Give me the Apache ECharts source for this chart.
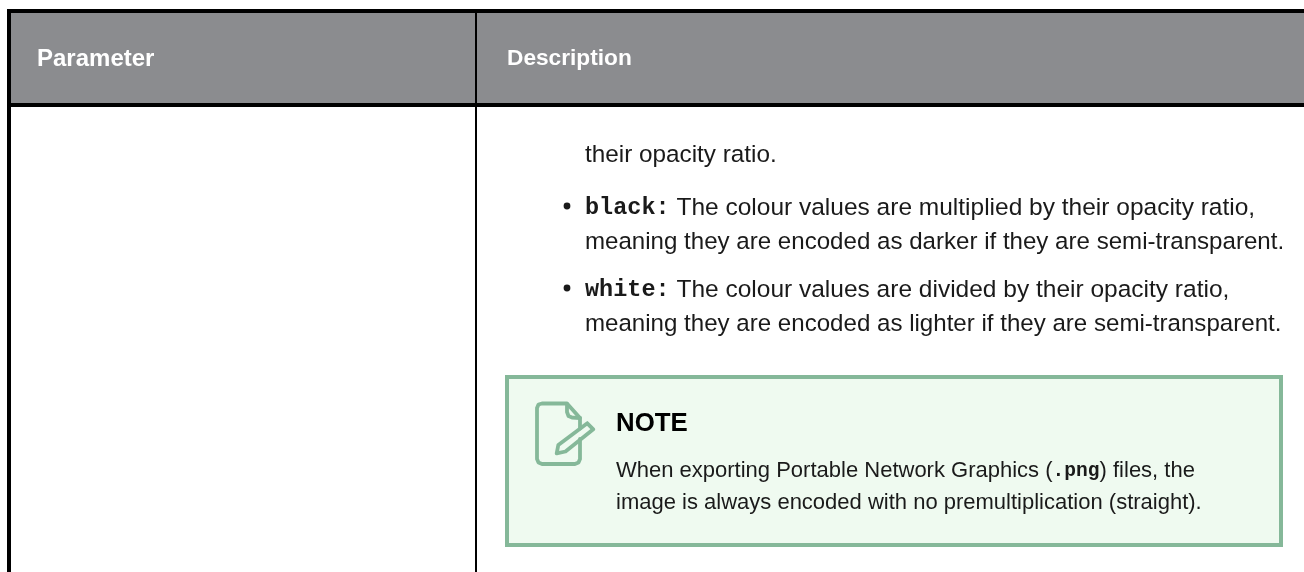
<!DOCTYPE html>
<html>
<head>
<meta charset="utf-8">
<style>
  html, body { margin: 0; padding: 0; background: #fff; }
  #chart { width: 1304px; height: 572px; }
</style>
<script src="https://cdn.jsdelivr.net/npm/echarts@6/dist/echarts.min.js"></script>
</head>
<body>
<div id="chart"></div>
<script>
const headers = ["Parameter", "Description"];
const introLine = "their opacity ratio.";
const bulletTerms = ["black:", "white:"];
const bulletFirstLines = [
  " The colour values are multiplied by their opacity ratio,",
  " The colour values are divided by their opacity ratio,"
];
const bulletSecondLines = [
  "meaning they are encoded as darker if they are semi-transparent.",
  "meaning they are encoded as lighter if they are semi-transparent."
];
const noteTitle = "NOTE";
const noteLines = [
  ["When exporting Portable Network Graphics (", ".png", ") files, the"],
  ["image is always encoded with no premultiplication (straight)."]
];

const sans = "'Liberation Sans', Arial, sans-serif";
const mono = "'Liberation Mono', 'Courier New', monospace";
const ink = "#1a1a1a";
const green = "#85b899";
const rich = {
  body: { fontFamily: sans, fontSize: 24.5, fill: ink },
  code: { fontFamily: mono, fontWeight: "bold", fontSize: 23.5, fill: ink },
  noteBody: { fontFamily: sans, fontSize: 22, fill: ink },
  noteCode: { fontFamily: mono, fontWeight: "bold", fontSize: 19.6, fill: ink }
};

function rect(x, y, w, h, fill) {
  return { type: "rect", shape: { x, y, width: w, height: h }, style: { fill } };
}

function text(x, y, str, size, opts) {
  return {
    type: "text", x, y,
    style: Object.assign({
      text: str, fontFamily: sans, fontSize: size, fill: ink,
      verticalAlign: "middle", rich
    }, opts)
  };
}

function iconLine(points) {
  return {
    type: "polyline",
    shape: { points },
    style: { fill: null, stroke: green, lineWidth: 3.8, lineJoin: "round", lineCap: "round" }
  };
}

const elements = [
  // table frame
  rect(11, 13, 1293, 90, "#8b8c8f"),
  rect(7, 9, 1297, 4, "#000"),
  rect(7, 103, 1297, 4, "#000"),
  rect(7, 9, 4, 563, "#000"),
  rect(475, 13, 2, 559, "#000"),
  text(37, 59, headers[0], 24, { fontWeight: "bold", fill: "#fff" }),
  text(507, 59, headers[1], 22.7, { fontWeight: "bold", fill: "#fff" }),
  text(585, 155, introLine, 24.3),
  // note box
  rect(507, 377, 774, 168, "#effaf0"),
  {
    type: "rect",
    shape: { x: 507, y: 377, width: 774, height: 168 },
    style: { fill: null, stroke: green, lineWidth: 4 }
  },
  // note icon: page outline, fold, pencil
  iconLine([[580, 428.5], [580, 418], [567, 403.5], [542, 403.5], [538.5, 404.5], [537, 408],
            [537, 459], [538.5, 462.5], [542, 464], [575, 464], [578.5, 462.5], [580, 459], [580, 439]]),
  iconLine([[567, 404], [567, 412], [568.5, 416], [572, 417.5], [580, 418]]),
  iconLine([[587.3, 423.3], [593.3, 429.3], [565.5, 451.5], [556.7, 453.3], [558.3, 445], [587.3, 423.3]]),
  text(616, 424, noteTitle, 25.8, { fontWeight: "bold", fill: "#000" }),
  text(616, 471, "{noteBody|" + noteLines[0][0] + "}{noteCode|" + noteLines[0][1] + "}{noteBody|" + noteLines[0][2] + "}", 22),
  text(616, 503, noteLines[1][0], 22)
];

bulletTerms.forEach((term, i) => {
  const top = [208, 290][i];
  elements.push(
    { type: "circle", shape: { cx: 567, cy: top - 2, r: 3.4 }, style: { fill: ink } },
    text(585, top, "{code|" + term + "}{body|" + bulletFirstLines[i] + "}", 24.5),
    text(585, top + 34, bulletSecondLines[i], 24.1)
  );
});

const chart = echarts.init(document.getElementById("chart"), null, { renderer: "canvas" });
chart.setOption({
  animation: false,
  backgroundColor: "#fff",
  graphic: { elements }
});
window.addEventListener("resize", () => chart.resize());
</script>
</body>
</html>
